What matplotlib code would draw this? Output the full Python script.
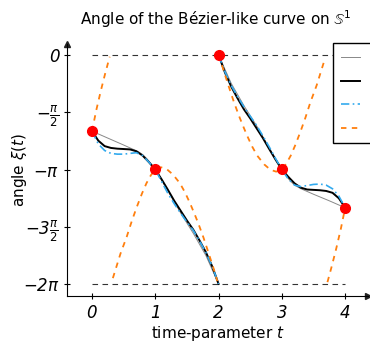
import numpy as np
import matplotlib
matplotlib.use("Agg")
import matplotlib.pyplot as plt

plt.rcParams["font.family"] = ["DejaVu Sans"]
plt.rcParams["mathtext.fontset"] = "dejavusans"

# control points of the curve (t, angle)
pts_t = [0, 1, 2, 3, 4]
pts_y = [-2.09, -3.14, 0.0, -3.14, -4.19]

# thin gray: piecewise geodesic-like reference
gray_t1 = [0.0, 0.25, 0.5, 0.73, 0.8, 0.87, 0.94, 1.0, 1.2, 1.4, 1.6, 1.8, 2.0]
gray_y1 = [-2.09, -2.28, -2.47, -2.65, -2.73, -2.85, -3.00, -3.14, -3.72, -4.33, -4.89, -5.50, -6.28]
gray_t2 = [2.0, 2.2, 2.4, 2.6, 2.8, 3.0, 3.06, 3.13, 3.2, 3.29, 3.5, 3.75, 4.0]
gray_y2 = [0.0, -0.78, -1.39, -1.94, -2.55, -3.14, -3.30, -3.45, -3.57, -3.66, -3.82, -4.00, -4.19]

# black thick curve
blk_t1 = [0.0, 0.1, 0.2, 0.3, 0.4, 0.5, 0.6, 0.7, 0.8, 0.9, 1.0,
          1.1, 1.2, 1.3, 1.4, 1.5, 1.6, 1.7, 1.8, 1.9, 2.0]
blk_y1 = [-2.09, -2.35, -2.50, -2.55, -2.57, -2.58, -2.59, -2.64, -2.76, -2.94, -3.14,
          -3.41, -3.70, -4.00, -4.27, -4.54, -4.79, -5.09, -5.41, -5.80, -6.28]
blk_t2 = [2.0, 2.1, 2.2, 2.3, 2.4, 2.5, 2.6, 2.7, 2.8, 2.9, 3.0,
          3.1, 3.2, 3.3, 3.4, 3.5, 3.6, 3.7, 3.8, 3.9, 4.0]
blk_y2 = [0.0, -0.48, -0.87, -1.19, -1.49, -1.74, -2.01, -2.28, -2.58, -2.87, -3.14,
          -3.34, -3.52, -3.64, -3.69, -3.70, -3.71, -3.73, -3.78, -3.93, -4.19]

# light blue dash-dot
blu_t1 = blk_t1
blu_y1 = [-2.09, -2.44, -2.62, -2.70, -2.72, -2.72, -2.70, -2.68, -2.76, -2.94, -3.14,
          -3.47, -3.80, -4.08, -4.34, -4.58, -4.81, -5.10, -5.42, -5.80, -6.28]
blu_t2 = blk_t2
blu_y2 = [0.0, -0.46, -0.84, -1.14, -1.42, -1.68, -1.93, -2.22, -2.52, -2.84, -3.14,
          -3.40, -3.57, -3.61, -3.58, -3.55, -3.54, -3.57, -3.67, -3.87, -4.19]

# orange dashed, four pieces (wraps at 0 / -2pi)
org_t1 = [0.0, 0.07, 0.14, 0.21, 0.28]
org_y1 = [-2.09, -1.50, -0.98, -0.50, -0.05]
org_t2 = [0.33, 0.45, 0.55, 0.63, 0.71, 0.79, 0.86, 0.93, 1.0, 1.09, 1.18,
          1.28, 1.39, 1.47, 1.55, 1.62, 1.68, 1.76, 1.84, 1.92, 1.98]
org_y2 = [-6.12, -5.45, -4.98, -4.55, -4.16, -3.80, -3.52, -3.30, -3.14, -3.08, -3.13,
          -3.28, -3.52, -3.77, -4.07, -4.36, -4.62, -5.00, -5.42, -5.85, -6.20]
org_t3 = [2.0, 2.02, 2.08, 2.16, 2.24, 2.32, 2.38, 2.45, 2.53, 2.61, 2.72, 2.82,
          2.91, 3.0, 3.07, 3.14, 3.21, 3.29, 3.37, 3.45, 3.55, 3.67]
org_y3 = [0.0, -0.08, -0.43, -0.86, -1.28, -1.66, -1.92, -2.21, -2.51, -2.76, -3.00, -3.15,
          -3.20, -3.14, -2.98, -2.76, -2.48, -2.12, -1.73, -1.30, -0.83, -0.16]
org_t4 = [3.72, 3.79, 3.86, 3.93, 4.0]
org_y4 = [-6.23, -5.78, -5.30, -4.78, -4.19]

xticks = [0, 1, 2, 3, 4]
xticklabels = ["0", "1", "2", "3", "4"]
yticks = [0, -np.pi / 2, -np.pi, -3 * np.pi / 2, -2 * np.pi]
yticklabels = ["0", r"$-\frac{\pi}{2}$", r"$-\pi$",
               r"$-$3$\frac{\pi}{2}$", r"$-$2$\pi$"]

fig = plt.figure(figsize=(3.7, 3.44), dpi=100)
ax = fig.add_axes([0.181, 0.1395, 0.8135, 0.7326])

orange = "#ff7f0e"
blue = "#33aaee"
blue_ls = (0, (5, 2, 1, 2))
orange_ls = (0, (3, 3))

# wrap-around reference lines
ax.plot([0, 4], [0, 0], color="#333333", lw=0.8, ls=(0, (5, 4)))
ax.plot([0, 4], [-2 * np.pi, -2 * np.pi], color="#333333", lw=0.8, ls=(0, (5, 4)))

h_gray, = ax.plot(gray_t1, gray_y1, color="#888888", lw=0.7)
ax.plot(gray_t2, gray_y2, color="#888888", lw=0.7)
h_blk, = ax.plot(blk_t1, blk_y1, color="black", lw=1.4)
ax.plot(blk_t2, blk_y2, color="black", lw=1.4)
h_blu, = ax.plot(blu_t1, blu_y1, color=blue, lw=1.2, ls=blue_ls)
ax.plot(blu_t2, blu_y2, color=blue, lw=1.2, ls=blue_ls)
h_org, = ax.plot(org_t1, org_y1, color=orange, lw=1.3, ls=orange_ls)
for tt, yy in [(org_t2, org_y2), (org_t3, org_y3), (org_t4, org_y4)]:
    ax.plot(tt, yy, color=orange, lw=1.3, ls=orange_ls)

ax.plot(pts_t, pts_y, "o", color="red", ms=7, zorder=5)

ax.set_xlim(-0.395, 4.36)
ax.set_ylim(-6.61, 0.30)
ax.set_xticks(xticks)
ax.set_xticklabels(xticklabels, fontstyle="italic", fontsize=12)
ax.set_yticks(yticks)
ax.set_yticklabels(yticklabels, fontstyle="italic", fontsize=12)
ax.tick_params(direction="inout", length=4, width=0.8)

for side in ["top", "right"]:
    ax.spines[side].set_visible(False)
ax.spines["left"].set_linewidth(0.8)
ax.spines["bottom"].set_linewidth(0.8)
ax.plot(1, 0, marker=">", color="#222222", ms=4, transform=ax.transAxes, clip_on=False)
ax.plot(0, 1, marker="^", color="#222222", ms=4, transform=ax.transAxes, clip_on=False)

ax.set_xlabel("time-parameter $t$", fontsize=11, labelpad=2)
ax.set_ylabel(r"angle $\xi(t)$", fontsize=11)
ax.yaxis.set_label_coords(-0.125, 0.5)
fig.text(0.584, 0.945, r"Angle of the Bézier-like curve on $\mathbb{S}^{1}$",
         ha="center", va="center", fontsize=11)

# legend is cut by the right figure edge, as in the original
leg = fig.legend([h_gray, h_blk, h_blu, h_org], ["", "", "", ""],
                 loc="upper left", bbox_to_anchor=(333 / 370, 1 - 43 / 344),
                 borderaxespad=0, fontsize=10, handlelength=1.4, handletextpad=3,
                 labelspacing=0.7, borderpad=0.55,
                 fancybox=False, framealpha=1, edgecolor="black")
leg.get_frame().set_linewidth(1.0)

fig.savefig("out.png", dpi=100)
